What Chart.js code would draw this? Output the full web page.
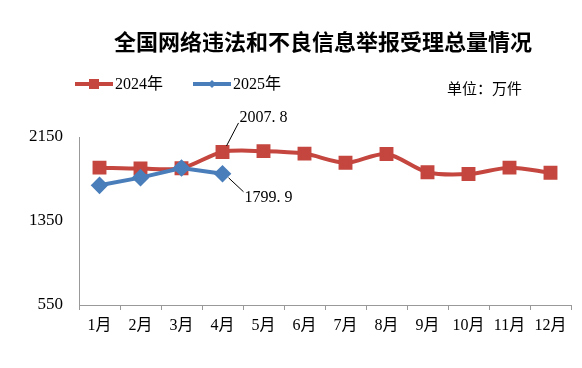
<!DOCTYPE html>
<html>
<head>
<meta charset="utf-8">
<title>举报受理总量</title>
<script src="https://cdn.jsdelivr.net/npm/chart.js@4.4.1/dist/chart.umd.min.js"></script>
<style>
  html, body { margin: 0; padding: 0; background: #fff; }
  #wrap { width: 582px; height: 368px; }
</style>
</head>
<body>
<div id="wrap"><canvas id="c" width="582" height="368"></canvas></div>
<script>
const months = ['1月','2月','3月','4月','5月','6月','7月','8月','9月','10月','11月','12月'];
const y2024 = [1858, 1850, 1853, 2007.8, 2015, 1992, 1905, 1988, 1814, 1797, 1858, 1810];
const y2025 = [1690, 1763, 1855, 1799.9];
const yTicks = [550, 1350, 2150];
const seriesNames = ['2024年', '2025年'];
const titleText = '全国网络违法和不良信息举报受理总量情况';
const unitText = '单位：万件';

const RED = '#C4463F';
const BLUE = '#4A7EBB';
const serif = "'Liberation Serif', 'Noto Sans CJK SC', serif";

// title, legend, unit and the two callouts
const extras = {
  id: 'extras',
  afterDraw(chart) {
    const ctx = chart.ctx;
    ctx.save();
    ctx.fillStyle = '#000';
    ctx.font = "bold 22px 'Noto Sans CJK SC', sans-serif";
    ctx.textAlign = 'center';
    ctx.textBaseline = 'middle';
    ctx.fillText(titleText, 323, 42);

    // legend
    const items = [[75, RED, 'rect'], [193, BLUE, 'rectRot']];
    items.forEach((it, i) => {
      const x = it[0], y = 84;
      ctx.strokeStyle = it[1];
      ctx.lineWidth = 4;
      ctx.beginPath(); ctx.moveTo(x, y); ctx.lineTo(x + 38, y); ctx.stroke();
      ctx.fillStyle = it[1];
      if (it[2] === 'rect') ctx.fillRect(x + 14, y - 5, 10, 10);
      else { ctx.beginPath(); ctx.moveTo(x+19, y-4); ctx.lineTo(x+23, y); ctx.lineTo(x+19, y+4); ctx.lineTo(x+15, y); ctx.fill(); }
      ctx.fillStyle = '#000';
      ctx.font = "16px " + serif;
      ctx.textAlign = 'left';
      ctx.fillText(seriesNames[i], x + 40, y + 1);
    });

    ctx.font = "15px 'Noto Sans CJK SC', sans-serif";
    ctx.fillText(unitText, 447, 88);

    // callouts
    const xs = chart.scales.x, ys = chart.scales.y;
    const px = xs.getPixelForValue(3);
    const pr = ys.getPixelForValue(y2024[3]);
    const pb = ys.getPixelForValue(y2025[3]);
    ctx.strokeStyle = '#000';
    ctx.lineWidth = 1;
    ctx.beginPath(); ctx.moveTo(px + 4, pr - 6); ctx.lineTo(px + 16, pr - 29); ctx.stroke();
    ctx.beginPath(); ctx.moveTo(px + 6, pb + 4); ctx.lineTo(px + 21, pb + 18); ctx.stroke();
    ctx.font = "16px " + serif;
    ctx.fillText(y2024[3].toFixed(1).replace('.', '. '), px + 17, pr - 34);
    ctx.fillText(y2025[3].toFixed(1).replace('.', '. '), px + 22, pb + 24);
    ctx.restore();
  }
};

new Chart(document.getElementById('c'), {
  type: 'line',
  data: {
    labels: months,
    datasets: [
      { label: seriesNames[0], data: y2024, borderColor: RED, backgroundColor: RED,
        borderWidth: 4, pointStyle: 'rect', pointRadius: 7, pointHoverRadius: 7,
        tension: 0.3, order: 2 },
      { label: seriesNames[1], data: y2025, borderColor: BLUE, backgroundColor: BLUE,
        borderWidth: 4, pointStyle: 'rectRot', pointRadius: 6, pointHoverRadius: 6,
        tension: 0, order: 1 }
    ]
  },
  options: {
    responsive: false,
    animation: false,
    layout: { padding: { left: 0, right: 6, top: 137, bottom: 0 } },
    plugins: { legend: { display: false }, tooltip: { enabled: false } },
    scales: {
      x: {
        offset: true,
        grid: { offset: true, drawOnChartArea: false, drawTicks: true, tickLength: 5, color: '#999' },
        border: { color: '#999', width: 1 },
        ticks: { color: '#000', maxRotation: 0, autoSkip: false, padding: 6, font: { family: serif, size: 16 } },
        afterFit(s) { s.height = 63; }
      },
      y: {
        min: 550, max: 2150,
        afterBuildTicks(s) { s.ticks = yTicks.map(v => ({ value: v })); },
        grid: { display: false, drawTicks: false },
        border: { color: '#999', width: 1 },
        ticks: { color: '#000', padding: 16, font: { family: serif, size: 17 }, callback: v => String(v) },
        afterFit(s) { s.width = 79; }
      }
    }
  },
  plugins: [extras]
});
</script>
</body>
</html>
